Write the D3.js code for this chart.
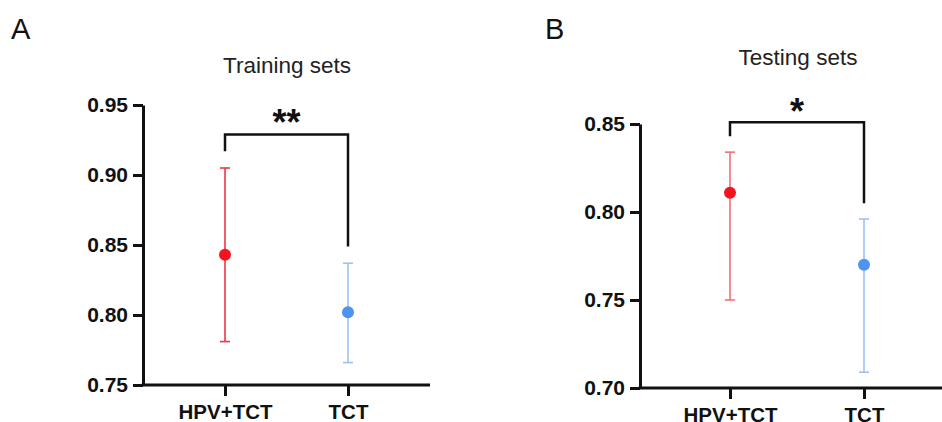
<!DOCTYPE html>
<html>
<head>
<meta charset="utf-8">
<script src="https://cdn.jsdelivr.net/npm/d3@7"></script>
<style>
  body { margin: 0; background: #fff; }
  svg { display: block; font-family: "Liberation Sans", Arial, sans-serif; }
  .tick text { font-weight: bold; fill: #111; }
</style>
</head>
<body>
<svg id="chart" width="942" height="422"></svg>
<script>
/* Data */
const groups = ['HPV+TCT', 'TCT'];

const trainMean = [0.843, 0.802];
const trainLow = [0.781, 0.766];
const trainHigh = [0.905, 0.837];
const trainTicks = [0.75, 0.80, 0.85, 0.90, 0.95];
const trainBracket = [0.929, 0.917, 0.849]; // top, left leg end, right leg end
const trainSig = '**';

const testMean = [0.811, 0.770];
const testLow = [0.750, 0.709];
const testHigh = [0.834, 0.796];
const testTicks = [0.70, 0.75, 0.80, 0.85];
const testBracket = [0.851, 0.843, 0.805];
const testSig = '*';

/* Colors */
const pointColor = ['#f2151f', '#4d94ee'];

const svg = d3.select('#chart');

function drawPanel(opt) {
  const g = svg.append('g');

  const y = d3.scaleLinear().domain(d3.extent(opt.ticks)).range([opt.bottom, opt.top]);
  const x = d3.scalePoint().domain(groups).range(opt.xr);

  // panel letter
  g.append('text')
    .attr('x', opt.letterX).attr('y', 39)
    .attr('font-size', 29)
    .attr('fill', '#111')
    .text(opt.letter);

  // title
  g.append('text')
    .attr('x', opt.titleX).attr('y', opt.titleY)
    .attr('text-anchor', 'middle')
    .attr('font-size', 22.5)
    .attr('fill', '#222')
    .text(opt.title);

  // y axis
  const ya = g.append('g')
    .attr('transform', `translate(${opt.left},0)`)
    .call(d3.axisLeft(y).tickValues(opt.ticks).tickFormat(d3.format('.2f'))
      .tickSize(10).tickSizeOuter(0).tickPadding(5));
  ya.selectAll('path, line').attr('stroke', '#111').attr('stroke-width', 3);
  ya.selectAll('text').attr('font-size', 21);

  // x axis line
  g.append('line')
    .attr('x1', opt.left - 1.5).attr('x2', opt.right)
    .attr('y1', opt.bottom).attr('y2', opt.bottom)
    .attr('stroke', '#111').attr('stroke-width', 3);

  const xa = g.append('g')
    .attr('transform', `translate(0,${opt.bottom})`)
    .call(d3.axisBottom(x).tickSize(11).tickPadding(8));
  xa.select('.domain').remove();
  xa.selectAll('line').attr('stroke', '#111').attr('stroke-width', 3);
  xa.selectAll('text').attr('font-size', 20.5).attr('dy', '0.71em');

  // error bars
  const bars = g.selectAll('.err')
    .data(groups)
    .enter().append('g')
    .attr('class', 'err');

  bars.append('line')
    .attr('x1', d => x(d)).attr('x2', d => x(d))
    .attr('y1', (d, i) => y(opt.low[i])).attr('y2', (d, i) => y(opt.high[i]))
    .attr('stroke', (d, i) => opt.barColor[i]).attr('stroke-width', 1.6);

  [opt.low, opt.high].forEach(arr => {
    bars.append('line')
      .attr('x1', d => x(d) - 5).attr('x2', d => x(d) + 5)
      .attr('y1', (d, i) => y(arr[i])).attr('y2', (d, i) => y(arr[i]))
      .attr('stroke', (d, i) => opt.barColor[i]).attr('stroke-width', 1.6);
  });

  bars.append('circle')
    .attr('cx', d => x(d))
    .attr('cy', (d, i) => y(opt.mean[i]))
    .attr('r', 6)
    .attr('fill', (d, i) => pointColor[i]);

  // significance bracket
  const b = opt.bracket;
  g.append('path')
    .attr('d', `M${x(groups[0])},${y(b[1])}V${y(b[0])}H${x(groups[1])}V${y(b[2])}`)
    .attr('fill', 'none')
    .attr('stroke', '#111')
    .attr('stroke-width', 2.5);

  g.append('text')
    .attr('x', (x(groups[0]) + x(groups[1])) / 2)
    .attr('y', y(b[0]) + opt.sigDy)
    .attr('text-anchor', 'middle')
    .attr('font-size', 36)
    .attr('font-weight', 'bold')
    .attr('fill', '#111')
    .text(opt.sig);
}

drawPanel({
  letter: 'A', letterX: 11, title: 'Training sets', titleX: 287, titleY: 73,
  left: 143, right: 430, top: 105, bottom: 385, xr: [225, 348],
  ticks: trainTicks, mean: trainMean, low: trainLow, high: trainHigh,
  bracket: trainBracket, sig: trainSig, sigDy: 1,
  barColor: ['#ef3541', '#9ec2f4']
});

drawPanel({
  letter: 'B', letterX: 545, title: 'Testing sets', titleX: 798, titleY: 65,
  left: 640, right: 942, top: 124, bottom: 388, xr: [730, 864],
  ticks: testTicks, mean: testMean, low: testLow, high: testHigh,
  bracket: testBracket, sig: testSig, sigDy: 2,
  barColor: ['#f0707a', '#9ec2f4']
});
</script>
</body>
</html>
